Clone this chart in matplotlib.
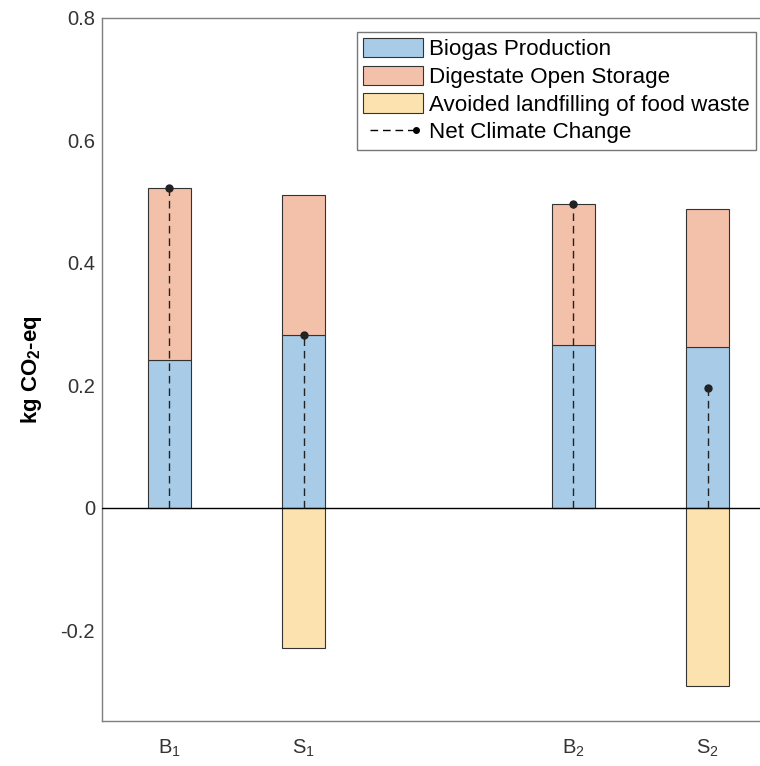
import numpy as np
import matplotlib.pyplot as plt
from matplotlib.lines import Line2D
from matplotlib.patches import Patch
from matplotlib.legend_handler import HandlerLine2D

plt.rcParams['font.family'] = ['Liberation Sans', 'DejaVu Sans']
plt.rcParams['mathtext.fontset'] = 'custom'
plt.rcParams['mathtext.rm'] = 'Liberation Sans'
plt.rcParams['mathtext.bf'] = 'Liberation Sans:bold'

labels = ['B$_1$', 'S$_1$', 'B$_2$', 'S$_2$']
xpos = [1, 2, 4, 5]
biogas = [0.241, 0.282, 0.266, 0.263]
digestate = [0.281, 0.229, 0.229, 0.224]
avoided = [0.0, -0.229, 0.0, -0.291]
net = [0.522, 0.282, 0.495, 0.196]

c_bio = '#a8cce8'
c_dig = '#f3c0aa'
c_avo = '#fce2ae'
edge = '#333333'
dash = (0, (5.5, 3.5))


class EndDotHandler(HandlerLine2D):
    # dashed line with the dot only at its right end
    def create_artists(self, *args, **kwargs):
        arts = super().create_artists(*args, **kwargs)
        for a in arts:
            a.set_markevery([len(a.get_xdata()) - 1])
        return arts


fig = plt.figure(figsize=(7.6, 7.66), dpi=100)
ax = fig.add_axes([0.134, 0.059, 0.886, 0.918])

w = 0.32
ax.bar(xpos, biogas, w, color=c_bio, edgecolor=edge, linewidth=0.8, zorder=2)
ax.bar(xpos, digestate, w, bottom=biogas, color=c_dig, edgecolor=edge, linewidth=0.8, zorder=2)
for x, a in zip(xpos, avoided):
    if a != 0:
        ax.bar(x, a, w, color=c_avo, edgecolor=edge, linewidth=0.8, zorder=2)

for x, n in zip(xpos, net):
    ax.plot([x, x], [0, n], linestyle=dash, color='#222222', linewidth=1,
            marker='o', markersize=5, markevery=[1], zorder=4)

ax.axhline(0, color='black', linewidth=1, zorder=3)

ax.set_xlim(0.5, 5.5)
ax.set_ylim(-0.348, 0.8)
ax.set_yticks([-0.2, 0, 0.2, 0.4, 0.6, 0.8])
ax.set_yticklabels(['-0.2', '0', '0.2', '0.4', '0.6', '0.8'])
ax.set_xticks(xpos)
ax.set_xticklabels(labels)
ax.tick_params(length=0, labelsize=14.5, labelcolor='#333333')
ax.tick_params(axis='y', pad=5)
ax.tick_params(axis='x', pad=12)
ax.set_ylabel('kg CO$_\\mathbf{2}$-eq', fontsize=16, fontweight='bold', labelpad=12)

for s in ['left', 'bottom', 'top']:
    ax.spines[s].set_color('#7f7f7f')
    ax.spines[s].set_linewidth(1)
ax.spines['right'].set_visible(False)

net_handle = Line2D([0, 1], [0, 0], linestyle=dash, color='black', linewidth=1,
                    marker='o', markersize=4, label='Net Climate Change')
handles = [
    Patch(facecolor=c_bio, edgecolor=edge, linewidth=0.8, label='Biogas Production'),
    Patch(facecolor=c_dig, edgecolor=edge, linewidth=0.8, label='Digestate Open Storage'),
    Patch(facecolor=c_avo, edgecolor=edge, linewidth=0.8, label='Avoided landfilling of food waste'),
    net_handle,
]
leg = ax.legend(handles=handles, loc='upper left', bbox_to_anchor=(0.379, 0.98),
                handler_map={net_handle: EndDotHandler(numpoints=2)},
                fontsize=16.1, frameon=True, fancybox=False, edgecolor='#555555',
                borderpad=0.28, labelspacing=0.24, handlelength=2.65, handleheight=0.95,
                handletextpad=0.3, borderaxespad=0)
leg.get_frame().set_linewidth(1)

fig.savefig('out.png', dpi=100)
